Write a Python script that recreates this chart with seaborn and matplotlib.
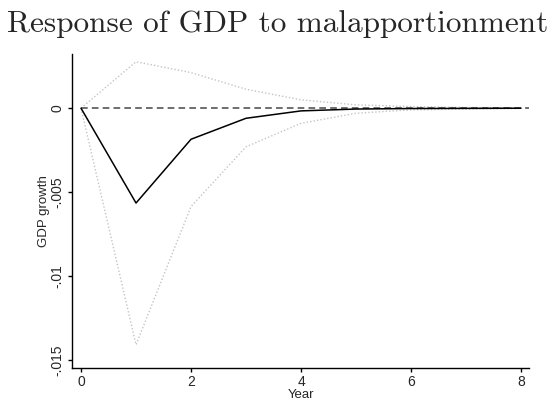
import numpy as np
import pandas as pd
import matplotlib
matplotlib.use("Agg")
import matplotlib.pyplot as plt
import seaborn as sns

years = [0, 1, 2, 3, 4, 5, 6, 7, 8]
irf = [0.0, -0.00565, -0.00185, -0.0006, -0.00016, -0.00005, -0.00002, -0.00001, 0.0]
upper = [0.0, 0.00277, 0.00212, 0.00113, 0.0005, 0.0002, 0.0001, 0.00004, 0.00002]
lower = [0.0, -0.01409, -0.00586, -0.0023, -0.0009, -0.0003, -0.0001, -0.00005, -0.00002]
xticks = [0, 2, 4, 6, 8]
yticks = [0, -0.005, -0.01, -0.015]
ytick_labels = ["0", "-.005", "-.01", "-.015"]

sns.set_style("ticks")
plt.rcParams['font.family'] = ['Liberation Sans', 'DejaVu Sans']

fig = plt.figure(figsize=(5.55, 4.04), dpi=100)
ax = fig.add_axes([72/555, 36/404, (529-72)/555, (368-54)/404])

df = pd.DataFrame({"Year": years, "irf": irf, "upper": upper, "lower": lower})

sns.lineplot(data=df, x="Year", y="upper", ax=ax, color="#c4c4c4", lw=1.0,
             linestyle=(0, (1, 1.5)))
sns.lineplot(data=df, x="Year", y="lower", ax=ax, color="#c4c4c4", lw=1.0,
             linestyle=(0, (1, 1.5)))
ax.axhline(0, color="#555555", lw=1.2, ls=(0, (4, 2.5)), xmin=0.0196, xmax=1.0)
sns.lineplot(data=df, x="Year", y="irf", ax=ax, color="black", lw=1.1)

ax.set_xlim(-0.164, 8.145)
ax.set_ylim(-0.01548, 0.00323)
ax.set_xticks(xticks)
ax.set_xticklabels([str(t) for t in xticks], fontsize=10)
ax.set_yticks(yticks)
ax.set_yticklabels(ytick_labels, fontsize=10, rotation=90, va="center")
ax.set_xlabel("Year", fontsize=9.5, labelpad=0)
ax.set_ylabel("GDP growth", fontsize=9.5, labelpad=0.5)
sns.despine(ax=ax)
for s in ["left", "bottom"]:
    ax.spines[s].set_linewidth(1.0)
    ax.spines[s].set_color("black")
ax.tick_params(axis="both", length=3, width=1.0, color="black")
ax.tick_params(axis="x", pad=2)
ax.tick_params(axis="y", pad=2.5)

fig.text(0.5, (404-31.5)/404, "Response of GDP to malapportionment",
         family="cmr10", fontsize=22.5, ha="center", va="baseline")

fig.savefig("out.png", dpi=100)
